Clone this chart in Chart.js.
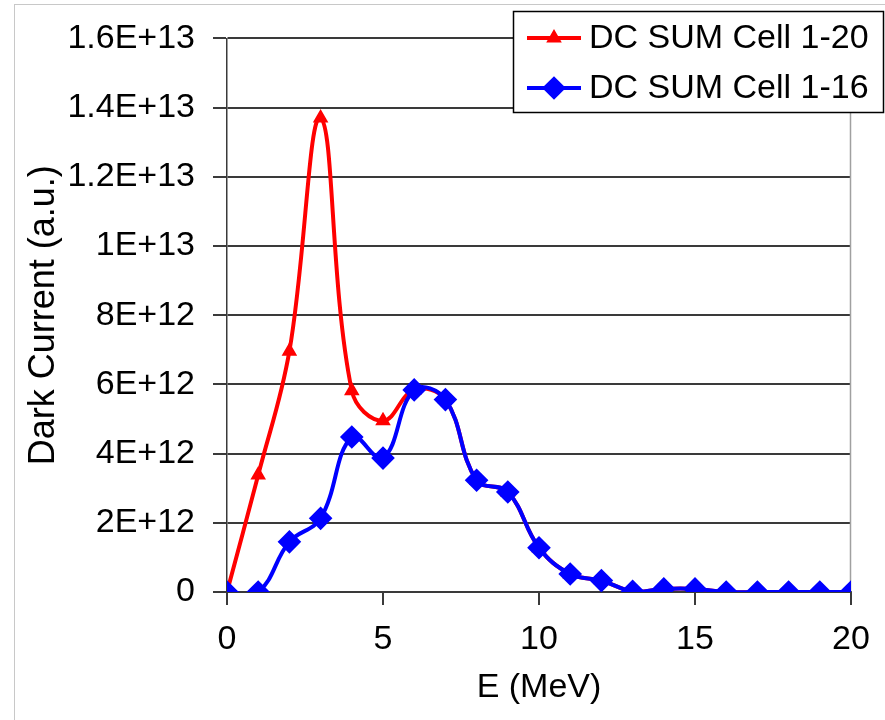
<!DOCTYPE html>
<html>
<head>
<meta charset="utf-8">
<title>Dark current vs energy</title>
<script src="https://cdn.jsdelivr.net/npm/chart.js@4/dist/chart.umd.min.js"></script>
<style>
  html, body { margin: 0; padding: 0; background: #fff; }
  #wrap { width: 885px; height: 720px; }
</style>
</head>
<body>
<div id="wrap"><canvas id="myChart" width="885" height="720"></canvas></div>
<script>
  // energy in MeV
  const energy = [0, 1, 2, 3, 4, 5, 6, 7, 8, 9, 10, 11, 12, 13, 14, 15, 16, 17, 18, 19, 20];
  const dcCell120 = [0, 3.38e12, 6.96e12, 1.37e13, 5.82e12, 4.95e12, 5.84e12, 5.56e12, 3.23e12, 2.89e12, 1.28e12,
                     0.52e12, 0.33e12, 0.02e12, 0.09e12, 0.09e12, 0, 0, 0, 0, 0];
  const dcCell116 = [0, 0, 1.45e12, 2.13e12, 4.48e12, 3.87e12, 5.84e12, 5.56e12, 3.23e12, 2.89e12, 1.28e12,
                     0.52e12, 0.33e12, 0.02e12, 0.09e12, 0.09e12, 0, 0, 0, 0, 0];
  const seriesNames = ['DC SUM Cell 1-20', 'DC SUM Cell 1-16'];
  const xTicks = [0, 5, 10, 15, 20];

  const FONT = 'Liberation Sans, Arial, sans-serif';
  const gridColor = '#3a3a3a';

  function pts(ys) {
    return energy.map((x, i) => ({x: x, y: ys[i]}));
  }

  // excel style 1.6E+13
  function sci(v) {
    if (v === 0) return '0';
    var e = Math.floor(Math.log10(v) + 1e-9);
    var m = Math.round(v / Math.pow(10, e) * 10) / 10;
    return m + 'E+' + e;
  }

  const frame = {
    id: 'frame',
    beforeDraw(chart) {
      const c = chart.ctx;
      c.save();
      c.fillStyle = '#fff';
      c.fillRect(0, 0, chart.width, chart.height);
      c.strokeStyle = '#c8c8c8';
      c.lineWidth = 1;
      c.strokeRect(14.5, 4.5, 900, 800);
      c.restore();
    },
    beforeDatasetsDraw(chart) {
      const a = chart.chartArea, c = chart.ctx;
      c.save();
      c.strokeStyle = '#a0a0a0';
      c.lineWidth = 1.5;
      c.beginPath();
      c.moveTo(a.right - 0.5, a.top);
      c.lineTo(a.right - 0.5, a.bottom);
      c.stroke();
      c.restore();
    },
    afterDraw(chart) {
      // boxed legend, top right
      const c = chart.ctx;
      c.save();
      c.fillStyle = '#fff';
      c.fillRect(513, 11, 371, 101);
      c.strokeStyle = '#000';
      c.lineWidth = 1.5;
      c.strokeRect(513.5, 11.5, 370, 101);
      const rows = [38, 88];
      chart.data.datasets.forEach((ds, i) => {
        const y = rows[i];
        c.strokeStyle = ds.borderColor;
        c.lineWidth = 4;
        c.beginPath();
        c.moveTo(527, y);
        c.lineTo(581, y);
        c.stroke();
        Chart.helpers.drawPoint(c, {
          pointStyle: ds.pointStyle, radius: ds.pointRadius, borderWidth: 1, rotation: 0
        }, 554, y);
        c.fillStyle = ds.backgroundColor;
        c.fill();
        c.fillStyle = '#000';
        c.font = '34px ' + FONT;
        c.textBaseline = 'middle';
        c.textAlign = 'left';
        c.fillText(ds.label, 589, y + 1);
      });
      c.restore();
    }
  };

  const config = {
    type: 'line',
    data: {
      datasets: [{
        label: seriesNames[0],
        data: pts(dcCell120),
        borderColor: '#ff0000',
        backgroundColor: '#ff0000',
        borderWidth: 4,
        pointStyle: 'triangle',
        pointRadius: 5,
        tension: 0.4,
        order: 1
      }, {
        label: seriesNames[1],
        data: pts(dcCell116),
        borderColor: '#0000ff',
        backgroundColor: '#0000ff',
        borderWidth: 4,
        pointStyle: 'rectRot',
        pointRadius: 9,
        tension: 0.4,
        order: 0
      }]
    },
    options: {
      responsive: false,
      animation: false,
      events: [],
      layout: { padding: { left: 0, top: 37, right: 34, bottom: 0 } },
      elements: { line: { capBezierPoints: false } },
      plugins: { legend: { display: false }, tooltip: { enabled: false } },
      scales: {
        x: {
          type: 'linear',
          min: 0,
          max: 20,
          afterFit: (s) => { s.height = 128; },
          afterBuildTicks: (s) => { s.ticks = xTicks.map(v => ({value: v})); },
          grid: { drawOnChartArea: false, drawTicks: true, tickLength: 13, color: gridColor, lineWidth: 2 },
          border: { color: gridColor, width: 2 },
          ticks: { color: '#000', font: { family: FONT, size: 34 }, padding: 14, maxRotation: 0 },
          title: { display: true, text: 'E (MeV)', color: '#000',
                   font: { family: FONT, size: 34, lineHeight: 1.2 }, padding: { top: 0, bottom: 12 } }
        },
        y: {
          min: 0,
          max: 1.6e13,
          afterFit: (s) => { s.width = 227; },
          grid: { color: gridColor, lineWidth: 2, tickLength: 14, drawTicks: true },
          border: { color: gridColor, width: 1.5 },
          ticks: { stepSize: 2e12, color: '#000', font: { family: FONT, size: 34 }, padding: 18, callback: sci },
          title: { display: true, text: 'Dark Current (a.u.)', color: '#000',
                   font: { family: FONT, size: 36, lineHeight: 1.2 }, padding: { top: 22, bottom: 0 } }
        }
      }
    },
    plugins: [frame]
  };

  const myChart = new Chart(document.getElementById('myChart'), config);
</script>
</body>
</html>
